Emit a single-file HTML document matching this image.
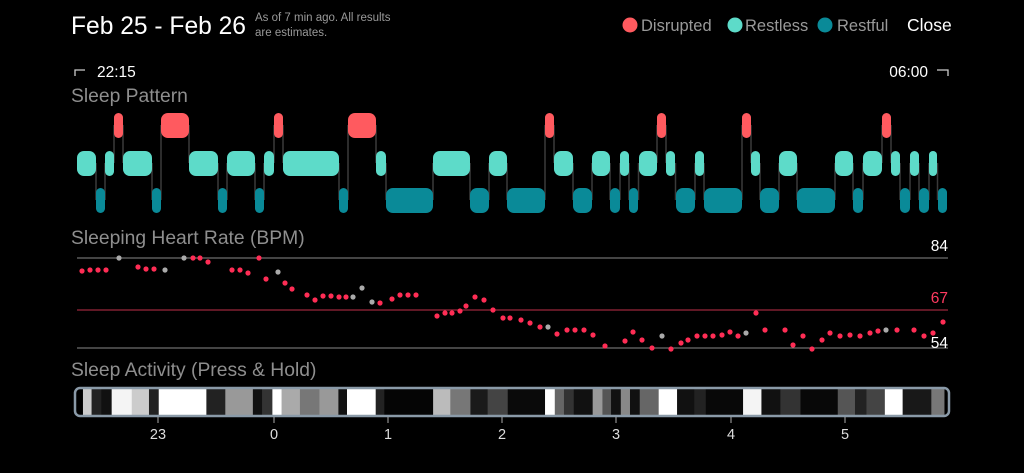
<!DOCTYPE html>
<html><head><meta charset="utf-8"><style>
html,body{margin:0;padding:0;background:#000;width:1024px;height:473px;overflow:hidden}
svg{display:block;font-family:"Liberation Sans",sans-serif}
</style></head><body>
<svg id="s" width="1024" height="473" viewBox="0 0 1024 473">
<rect width="1024" height="473" fill="#000"/>
<text x="71" y="34" font-size="24.6" fill="#fff">Feb 25 - Feb 26</text>
<text x="255" y="21" font-size="11.5" fill="#999">As of 7 min ago. All results</text>
<text x="255" y="36" font-size="11.5" fill="#999">are estimates.</text>
<circle cx="630" cy="25" r="7.5" fill="#ff5a5f"/><text x="641" y="31" font-size="16.5" fill="#999">Disrupted</text>
<circle cx="735" cy="25" r="7.5" fill="#5ddbc9"/><text x="745" y="31" font-size="16.5" fill="#999">Restless</text>
<circle cx="825" cy="25" r="7.5" fill="#0a8a98"/><text x="837" y="31" font-size="16.5" fill="#999">Restful</text>
<text x="907" y="31" font-size="17.5" fill="#fff">Close</text>
<path d="M75 76V70H85" stroke="#ccc" stroke-width="1.3" fill="none"/>
<text x="97" y="77" font-size="15.5" fill="#fff">22:15</text>
<text x="928" y="77" font-size="15.5" fill="#fff" text-anchor="end">06:00</text>
<path d="M937 70H948V76" stroke="#ccc" stroke-width="1.3" fill="none"/>
<text x="71" y="102" font-size="19.3" fill="#8e8e8e">Sleep Pattern</text>
<text x="71" y="244" font-size="19.3" fill="#8e8e8e">Sleeping Heart Rate (BPM)</text>
<text x="71" y="376" font-size="19.3" fill="#8e8e8e">Sleep Activity (Press &amp; Hold)</text>
<line x1="77" y1="258" x2="948" y2="258" stroke="#888" stroke-width="1"/>
<line x1="77" y1="310" x2="948" y2="310" stroke="#c0304a" stroke-width="1"/>
<line x1="77" y1="348" x2="948" y2="348" stroke="#888" stroke-width="1"/>
<text x="948" y="251" font-size="15.5" fill="#fff" text-anchor="end">84</text>
<text x="948" y="303" font-size="15.5" fill="#ff3a60" text-anchor="end">67</text>
<text x="948" y="348" font-size="15.5" fill="#fff" text-anchor="end">54</text>
<g id="pat"></g><g id="hr"></g><g id="act"></g>
</svg>
<script>
var NS="http://www.w3.org/2000/svg";
function el(p,t,a){var e=document.createElementNS(NS,t);for(var k in a)e.setAttribute(k,a[k]);document.getElementById(p).appendChild(e);return e;}
var seg=[[77,96,1],[96,105,2],[105,114,1],[114,123,0],[123,152,1],[152,161,2],[161,189,0],[189,218,1],[218,227,2],[227,255,1],[255,264,2],[264,274,1],[274,283,0],[283,339,1],[339,348,2],[348,376,0],[376,386,1],[386,433,2],[433,470,1],[470,489,2],[489,507,1],[507,545,2],[545,554,0],[554,573,1],[573,592,2],[592,610,1],[610,620,2],[620,629,1],[629,638,2],[639,657,1],[657,666,0],[666,675,1],[676,695,2],[695,704,1],[704,742,2],[742,751,0],[751,760,1],[760,779,2],[779,797,1],[797,835,2],[835,853,1],[853,863,2],[863,882,1],[882,891,0],[891,900,1],[900,910,2],[910,919,1],[919,929,2],[929,937,1],[938,947,2]];
var ry=[113,151,188],col=["#ff5a5f","#5ddbc9","#0a8a98"];
for(var i=0;i<seg.length-1;i++){var a=seg[i],b=seg[i+1];var x=(a[1]+b[0])/2;el("pat","line",{x1:x,x2:x,y1:ry[a[2]]+12,y2:ry[b[2]]+12,stroke:"#3a3a3a","stroke-width":1.5});}
seg.forEach(function(s){var w=s[1]-s[0];el("pat","rect",{x:s[0],y:ry[s[2]],width:w,height:25,rx:Math.min(w/2,7),fill:col[s[2]]});});
var d="82,271 90,270 98,270 106,270 119,258g 138,267 146,269 154,269 165,270g 184,258g 193,258 200,258 208,262 232,270 240,270 248,273 259,258 266,279 278,272g 285,283 292,289 307,295 315,300 323,296 331,296 339,297 346,297 353,297g 362,288g 372,302g 380,303 392,299 400,295 408,295 416,295 437,316 445,313 452,313 460,311 466,306 475,297 484,300 493,310 503,318 510,318 521,320 530,323 540,327 548,327g 557,334 567,330 575,330 584,330 593,335 605,346 625,341 633,332 642,340 652,348 662,336g 671,349 681,343 688,340 697,336 705,336 713,336 722,335 730,332 738,336 746,333g 756,313 765,330 785,330 793,345 803,336 812,349 822,340 830,333 840,336 850,335 860,336 870,333 878,331 886,330g 897,330 914,330 924,336 933,333 943,322".split(" ");
d.forEach(function(p){var g=p.indexOf("g")>0;p=p.replace("g","").split(",");el("hr","circle",{cx:p[0],cy:p[1],r:2.6,fill:g?"#aaa":"#ff2d55"});});
var st=[[40,55,"#ccc"],[55,72,"#222"],[72,90,"#111"],[90,125,"#f4f4f4"],[125,155,"#ccc"],[155,172,"#222"],[172,255,"#fff"],[255,288,"#222"],[288,336,"#999"],[336,352,"#111"],[352,370,"#333"],[370,386,"#fff"],[386,418,"#aaa"],[418,452,"#777"],[452,485,"#999"],[485,500,"#111"],[500,550,"#fff"],[550,565,"#222"],[565,650,"#050505"],[650,680,"#bbb"],[680,715,"#777"],[715,745,"#1a1a1a"],[745,780,"#444"],[780,845,"#0a0a0a"],[845,862,"#fff"],[862,878,"#666"],[878,895,"#333"],[895,928,"#111"],[928,945,"#999"],[945,960,"#555"],[960,977,"#111"],[977,993,"#888"],[993,1010,"#111"],[1010,1043,"#666"],[1043,1075,"#fff"],[1075,1105,"#111"],[1105,1125,"#222"],[1125,1190,"#080808"],[1190,1222,"#f4f4f4"],[1222,1255,"#111"],[1255,1290,"#333"],[1290,1355,"#080808"],[1355,1385,"#555"],[1385,1405,"#222"],[1405,1437,"#444"],[1437,1468,"#fff"],[1468,1518,"#181818"],[1518,1540,"#777"]];
var k=0.574;
st.forEach(function(s){var x1=60+s[0]*k,x2=60+s[1]*k;el("act","rect",{x:x1,y:389,width:x2-x1+0.5,height:26,fill:s[2]});});
el("act","rect",{x:75,y:388,width:874,height:28,rx:5,fill:"none",stroke:"#8a9aa8","stroke-width":2.5});
[["23",158],["0",274],["1",388],["2",502],["3",616],["4",731],["5",845]].forEach(function(t){el("act","line",{x1:t[1],x2:t[1],y1:417,y2:423,stroke:"#aaa","stroke-width":1});var e=el("act","text",{x:t[1],y:439,"font-size":14.5,fill:"#ddd","text-anchor":"middle"});e.textContent=t[0];});
</script>
</body></html>
